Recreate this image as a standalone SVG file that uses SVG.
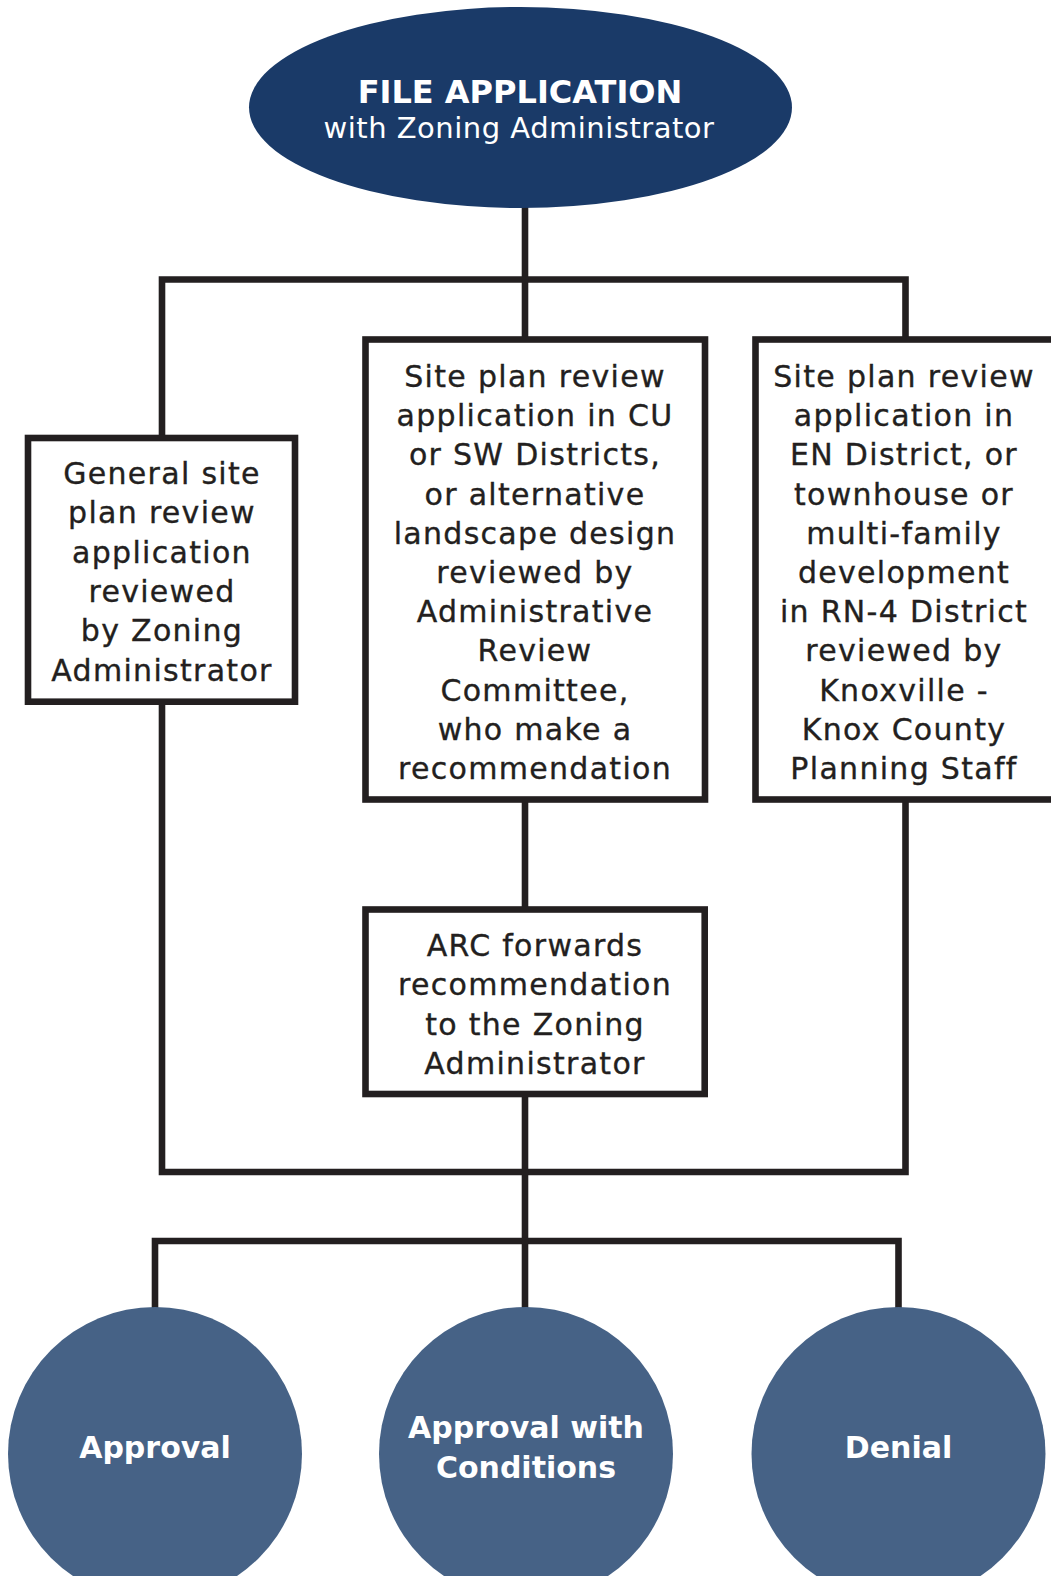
<svg xmlns="http://www.w3.org/2000/svg" width="1051" height="1576" viewBox="0 0 1051 1576">
<style>
.conn{fill:none;stroke:#231f20;stroke-width:6.6;stroke-linejoin:miter;stroke-linecap:butt}
.box{fill:#ffffff;stroke:#231f20;stroke-width:6.6}
.bt{font-family:"DejaVu Sans","Liberation Sans",sans-serif;font-size:30px;fill:#231f20;stroke:#231f20;stroke-width:0.35;text-anchor:middle;letter-spacing:1.3px}
.ct{font-family:"DejaVu Sans","Liberation Sans",sans-serif;font-size:30px;font-weight:bold;fill:#ffffff;text-anchor:middle}
.outcome{fill:#466286}
</style>
<rect width="1051" height="1576" fill="#ffffff"/>
<g id="connectors">
<path class="conn" d="M525 200 V279.5"/>
<path class="conn" d="M162 438 V279.5 H905.5 V339.5"/>
<path class="conn" d="M525 279.5 V339.5"/>
<path class="conn" d="M525 799.5 V909.5"/>
<path class="conn" d="M162 701.7 V1172 H905.5 V799.5"/>
<path class="conn" d="M525 1094 V1241"/>
<path class="conn" d="M155 1310 V1241 H898.5 V1310"/>
<path class="conn" d="M525 1241 V1310"/>
</g>
<g id="file-application">
<ellipse cx="520.5" cy="107.5" rx="271.5" ry="100.5" fill="#1a3a68"/>
<text x="520" y="103" font-family="DejaVu Sans, Liberation Sans, sans-serif" font-size="32" font-weight="bold" fill="#ffffff" text-anchor="middle">FILE APPLICATION</text>
<text x="519" y="138" font-family="DejaVu Sans, Liberation Sans, sans-serif" font-size="29" fill="#ffffff" text-anchor="middle" letter-spacing="0.5">with Zoning Administrator</text>
</g>
<g id="general-review">
<rect class="box" x="28" y="438" width="267" height="263.7"/>
<text class="bt" x="162" y="484">General site</text>
<text class="bt" x="162" y="523.3">plan review</text>
<text class="bt" x="162" y="562.6">application</text>
<text class="bt" x="162" y="601.9">reviewed</text>
<text class="bt" x="162" y="641.2">by Zoning</text>
<text class="bt" x="162" y="680.5">Administrator</text>
</g>
<g id="arc-review">
<rect class="box" x="365.5" y="339.5" width="339.5" height="460"/>
<text class="bt" x="535" y="387">Site plan review</text>
<text class="bt" x="535" y="426.2">application in CU</text>
<text class="bt" x="535" y="465.4">or SW Districts,</text>
<text class="bt" x="535" y="504.6">or alternative</text>
<text class="bt" x="535" y="543.8">landscape design</text>
<text class="bt" x="535" y="583">reviewed by</text>
<text class="bt" x="535" y="622.2">Administrative</text>
<text class="bt" x="535" y="661.4">Review</text>
<text class="bt" x="535" y="700.6">Committee,</text>
<text class="bt" x="535" y="739.8">who make a</text>
<text class="bt" x="535" y="779">recommendation</text>
</g>
<g id="staff-review">
<rect class="box" x="755.5" y="339.5" width="300" height="460"/>
<text class="bt" x="904" y="387">Site plan review</text>
<text class="bt" x="904" y="426.2">application in</text>
<text class="bt" x="904" y="465.4">EN District, or</text>
<text class="bt" x="904" y="504.6">townhouse or</text>
<text class="bt" x="904" y="543.8">multi-family</text>
<text class="bt" x="904" y="583">development</text>
<text class="bt" x="904" y="622.2">in RN-4 District</text>
<text class="bt" x="904" y="661.4">reviewed by</text>
<text class="bt" x="904" y="700.6">Knoxville -</text>
<text class="bt" x="904" y="739.8">Knox County</text>
<text class="bt" x="904" y="779">Planning Staff</text>
</g>
<g id="arc-forwards">
<rect class="box" x="365.5" y="909.5" width="339.2" height="184.5"/>
<text class="bt" x="535" y="956">ARC forwards</text>
<text class="bt" x="535" y="995.4">recommendation</text>
<text class="bt" x="535" y="1034.8">to the Zoning</text>
<text class="bt" x="535" y="1074.2">Administrator</text>
</g>
<g id="approval">
<circle class="outcome" cx="155" cy="1454" r="147"/>
<text class="ct" x="155" y="1458">Approval</text>
</g>
<g id="approval-conditions">
<circle class="outcome" cx="526" cy="1454" r="147"/>
<text class="ct" x="526" y="1438">Approval with</text>
<text class="ct" x="526" y="1478">Conditions</text>
</g>
<g id="denial">
<circle class="outcome" cx="898.5" cy="1454" r="147"/>
<text class="ct" x="898.5" y="1458">Denial</text>
</g>
</svg>
